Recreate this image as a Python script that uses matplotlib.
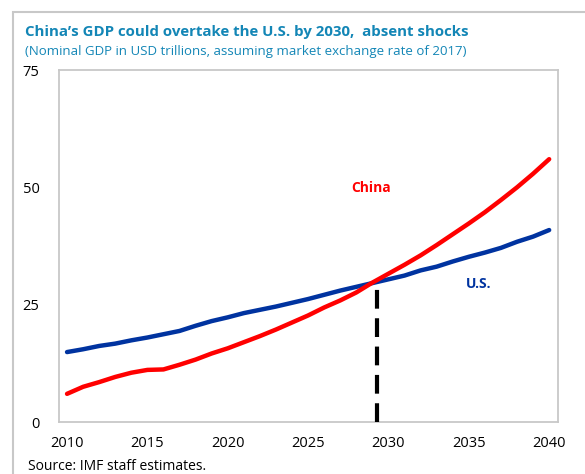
import numpy as np
import matplotlib.pyplot as plt
from matplotlib.patches import Rectangle

plt.rcParams['font.family'] = ['Open Sans', 'DejaVu Sans']

# nominal GDP, USD trillions
years = list(range(2010, 2041))
china = [6.0, 7.5, 8.5, 9.6, 10.5, 11.1, 11.2, 12.2, 13.3, 14.6, 15.7,
         17.0, 18.3, 19.7, 21.2, 22.7, 24.4, 25.9, 27.6, 29.7, 31.6,
         33.5, 35.5, 37.7, 40.0, 42.3, 44.7, 47.3, 50.0, 52.9, 56.0]
us = [14.9, 15.5, 16.2, 16.7, 17.4, 18.0, 18.7, 19.4, 20.5, 21.5, 22.3,
      23.2, 23.9, 24.6, 25.4, 26.2, 27.1, 28.0, 28.8, 29.6, 30.4,
      31.2, 32.3, 33.1, 34.2, 35.2, 36.1, 37.1, 38.4, 39.5, 40.9]
cross_year = 2029.3
cross_value = 28.6

xticks = [2010, 2015, 2020, 2025, 2030, 2035, 2040]
yticks = [0, 25, 50, 75]

title_color = '#1386B6'
red = '#FF0000'
blue = '#0033A0'
frame_gray = '#C8C8C8'

fig = plt.figure(figsize=(5.85, 4.74), dpi=100)
ax = fig.add_axes([59 / 585, 1 - 422 / 474, (558 - 59) / 585, (422 - 70) / 474])

# outer frame of the panel
fig.patches.append(Rectangle((13 / 585, -0.1), 1.2, 1 - 12 / 474 + 0.1,
                             transform=fig.transFigure, fill=False,
                             edgecolor=frame_gray, linewidth=1.5))

ax.plot(years, us, color=blue, linewidth=3.2, solid_capstyle='round', zorder=3)
ax.plot(years, china, color=red, linewidth=3.2, solid_capstyle='round', zorder=3)
ax.plot([cross_year, cross_year], [0, cross_value], color='black',
        linewidth=3, linestyle=(0, (4.5, 2.3)), zorder=4)

ax.text(2028.9, 49.9, 'China', color=red, fontsize=10, fontweight='bold',
        ha='center', va='center')
ax.text(2035.6, 29.4, 'U.S.', color=blue, fontsize=10, fontweight='bold',
        ha='center', va='center')

ax.set_xlim(2009.5, 2040.55)
ax.set_ylim(0, 75)
ax.set_xticks(xticks)
ax.set_yticks(yticks)
ax.tick_params(length=0, labelsize=10.5, pad=10)
ax.tick_params(axis='y', pad=14)
for s in ax.spines.values():
    s.set_color(frame_gray)
    s.set_linewidth(1.3)

fig.text(25 / 585, 1 - 32 / 474, 'China\u2019s GDP could overtake the U.S. by 2030,  absent shocks',
         color=title_color, fontsize=10.8, fontweight='bold', va='center')
fig.text(25 / 585, 1 - 52 / 474,
         '(Nominal GDP in USD trillions, assuming market exchange rate of 2017)',
         color=title_color, fontsize=9.5, va='center')
fig.text(28 / 585, 1 - 466 / 474, 'Source: IMF staff estimates.',
         color='black', fontsize=10, va='center')

fig.savefig('out.png', dpi=100)
